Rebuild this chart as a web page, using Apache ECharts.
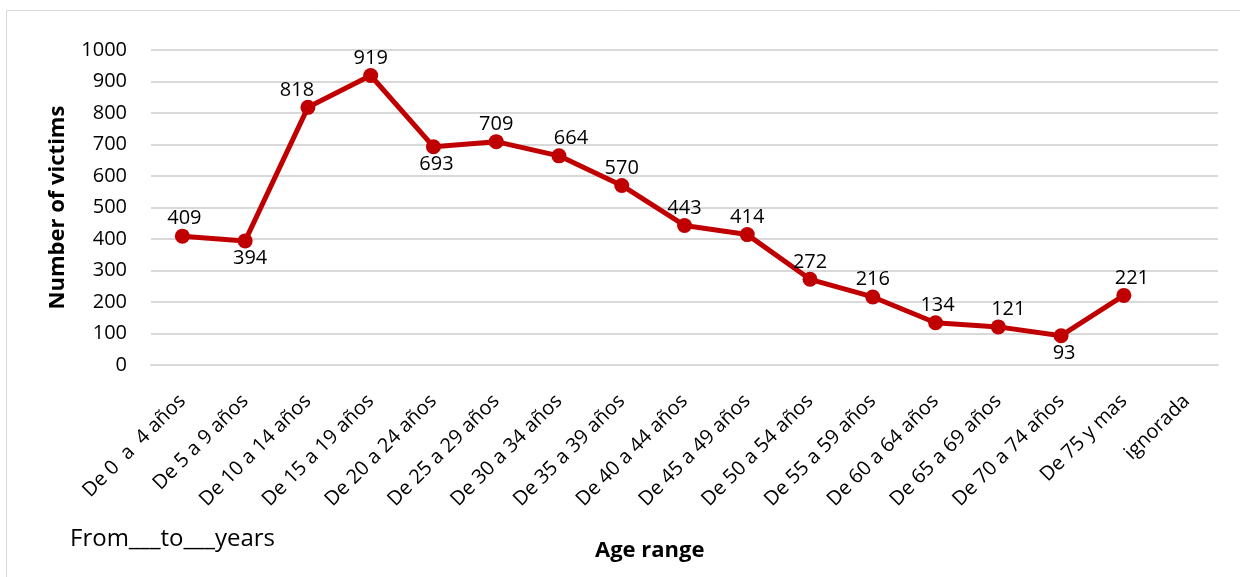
<!DOCTYPE html>
<html>
<head>
<meta charset="utf-8">
<script src="https://cdn.jsdelivr.net/npm/echarts@6/dist/echarts.min.js"></script>
<style>
  html, body { margin: 0; padding: 0; background: #fff; }
  #chart { width: 1240px; height: 577px; }
</style>
</head>
<body>
<div id="chart"></div>
<script>
// rangos de edad
var ageRanges = ['De 0  a  4 años', 'De 5 a 9 años', 'De 10 a 14 años', 'De 15 a 19 años',
  'De 20 a 24 años', 'De 25 a 29 años', 'De 30 a 34 años', 'De 35 a 39 años',
  'De 40 a 44 años', 'De 45 a 49 años', 'De 50 a 54 años', 'De 55 a 59 años',
  'De 60 a 64 años', 'De 65 a 69 años', 'De 70 a 74 años', 'De 75 y mas', 'ignorada']
// numero de victimas (ignorada sin dato)
var victims = [409, 394, 818, 919, 693, 709, 664, 570, 443, 414, 272, 216, 134, 121, 93, 221, null]
// posicion de cada etiqueta
var labelPos = ['top', 'bottom', 'top', 'top', 'bottom', 'top', 'top', 'top', 'top', 'top',
  'top', 'top', 'top', 'top', 'bottom', 'top', 'top']
var labelShift = [2, 5, -11, 0, 3, 0, 12, 0, 0, 0, 0, 0, 2, 10, 3, 8, 0]

var font = '"Open Sans", "Noto Sans", sans-serif'
var chart = echarts.init(document.getElementById('chart'))

var points = victims.map(function (v, i) {
  return {
    value: v,
    label: { position: labelPos[i], offset: [labelShift[i], 0] }
  }
})

var option = {
  animation: false,
  grid: { left: 151, right: 22, top: 50, bottom: 212 },
  graphic: [
    {
      type: 'rect',
      shape: { x: 6.5, y: 10.5, width: 1250, height: 600 },
      style: { fill: 'none', stroke: '#d9d9d9', lineWidth: 1 }
    },
    {
      type: 'text', left: 70, top: 527,
      style: { text: 'From___to___years', font: '24px ' + font, fill: '#000' }
    },
    {
      type: 'text', left: 595, top: 540,
      style: { text: 'Age range', font: 'bold 22px ' + font, fill: '#000' }
    }
  ],
  xAxis: {
    type: 'category',
    data: ageRanges,
    boundaryGap: true,
    axisLine: { show: true, lineStyle: { color: '#d9d9d9', width: 2 } },
    axisTick: { show: false },
    axisLabel: {
      rotate: 45,
      interval: 0,
      margin: 33,
      fontFamily: font,
      fontSize: 20,
      color: '#000'
    }
  },
  yAxis: {
    type: 'value',
    min: 0,
    max: 1000,
    interval: 100,
    name: 'Number of victims',
    nameLocation: 'middle',
    nameGap: 82,
    nameTextStyle: { fontFamily: font, fontSize: 22, fontWeight: 'bold', color: '#000' },
    axisLine: { show: false },
    axisTick: { show: false },
    axisLabel: {
      margin: 24,
      fontFamily: font,
      fontSize: 20,
      color: '#000',
      formatter: function (v) { return String(v) }
    },
    splitLine: { lineStyle: { color: '#d9d9d9', width: 2 } }
  },
  series: [
    {
      type: 'line',
      data: points,
      connectNulls: false,
      symbol: 'circle',
      symbolSize: 15,
      itemStyle: { color: '#c00000' },
      lineStyle: { color: '#c00000', width: 5 },
      label: {
        show: true,
        distance: 0,
        fontFamily: font,
        fontSize: 20,
        color: '#000'
      }
    }
  ]
}

chart.setOption(option)
</script>
</body>
</html>
